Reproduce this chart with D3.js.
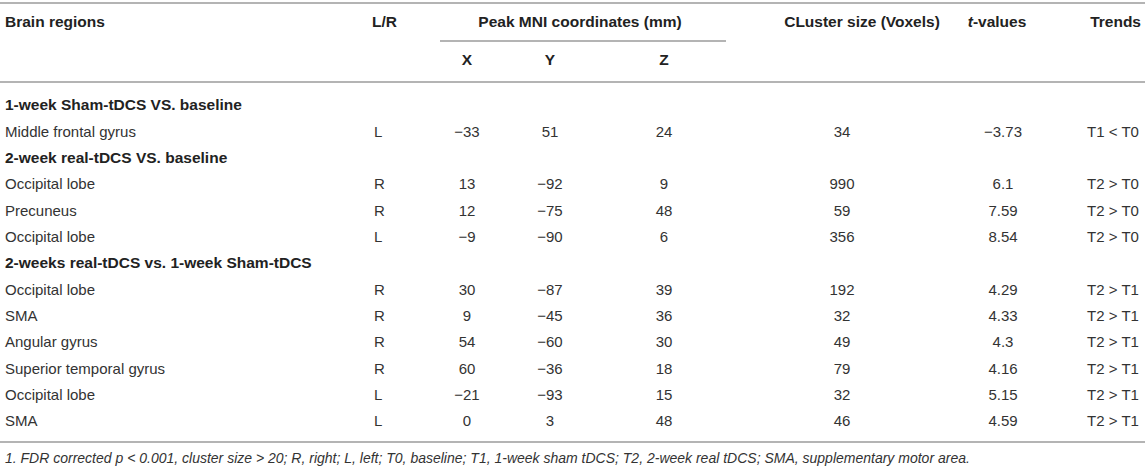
<!DOCTYPE html>
<html>
<head>
<meta charset="utf-8">
<script src="https://cdnjs.cloudflare.com/ajax/libs/d3/7.8.5/d3.min.js"></script>
<style>
body { margin:0; background:#fff; }
text { font-family: "Liberation Sans", Arial, sans-serif; font-size:15px; fill:#333; }
.hd { font-weight:bold; font-size:15.5px; fill:#222; }
.rule { stroke:#b4b4b4; stroke-width:2; }
</style>
</head>
<body>
<svg id="tbl" width="1145" height="471"></svg>
<script>
// section titles and how many rows each one owns
var groupTitles = ["1-week Sham-tDCS VS. baseline", "2-week real-tDCS VS. baseline", "2-weeks real-tDCS vs. 1-week Sham-tDCS"];
var groupSizes = [1, 3, 6];

var regions = ["Middle frontal gyrus", "Occipital lobe", "Precuneus", "Occipital lobe",
	"Occipital lobe", "SMA", "Angular gyrus", "Superior temporal gyrus", "Occipital lobe", "SMA"];
var sides = ["L", "R", "R", "L", "R", "R", "R", "R", "L", "L"];
var xCoords = [-33, 13, 12, -9, 30, 9, 54, 60, -21, 0];
var yCoords = [51, -92, -75, -90, -87, -45, -60, -36, -93, 3];
var zCoords = [24, 9, 48, 6, 39, 36, 30, 18, 15, 48];
var clusterSizes = [34, 990, 59, 356, 192, 32, 49, 79, 32, 46];
var tValues = ["-3.73", "6.1", "7.59", "8.54", "4.29", "4.33", "4.3", "4.16", "5.15", "4.59"];
var trends = ["T1 < T0", "T2 > T0", "T2 > T0", "T2 > T0", "T2 > T1", "T2 > T1", "T2 > T1", "T2 > T1", "T2 > T1", "T2 > T1"];

var footnote = "1. FDR corrected p < 0.001, cluster size > 20; R, right; L, left; T0, baseline; T1, 1-week sham tDCS; T2, 2-week real tDCS; SMA, supplementary motor area.";

function fmt(v)
{
	// typeset minus sign like the journal does
	return String(v).replace("-", "\u2212");
}

var svg = d3.select("#tbl");
var W = 1145;

// column anchors
var col = {
	region: 5, side: 374, x: 467, y: 550, z: 664,
	cluster: 842, t: 1003, trend: 1113
};

// flatten groups into display lines
var lines = [];
var k = 0;
for(var g = 0; g < groupTitles.length; g++)
{
	lines.push({type:"group", text: groupTitles[g]});
	for(var j = 0; j < groupSizes[g]; j++)
	{
		lines.push({type:"row", i:k});
		k++;
	}
}

var yRow = d3.scaleLinear()
	.domain([0, lines.length - 1])
	.range([105, 421]);
var yLast = yRow(lines.length - 1);

// rules
svg.append("line").attr("class","rule").attr("x1",0).attr("x2",W).attr("y1",3).attr("y2",3);
svg.append("line").attr("class","rule").attr("x1",440).attr("x2",726).attr("y1",41).attr("y2",41);
svg.append("line").attr("class","rule").attr("x1",0).attr("x2",W).attr("y1",82).attr("y2",82);
svg.append("line").attr("class","rule").attr("x1",0).attr("x2",W).attr("y1",yLast+21).attr("y2",yLast+21);

// header
var head = svg.append("g").attr("class","header");
function hText(x, y, txt, anchor)
{
	return head.append("text").attr("class","hd")
		.attr("x", x).attr("y", y).attr("dy","0.35em")
		.attr("text-anchor", anchor || "middle")
		.text(txt);
}
hText(col.region, 22, "Brain regions", "start");
hText(col.side - 2, 22, "L/R", "start");
hText(580, 22, "Peak MNI coordinates (mm)");
hText(862, 22, "CLuster size (Voxels)");
var th = hText(997, 22, "");
th.append("tspan").style("font-style","italic").text("t");
th.append("tspan").text("-values");
hText(1141, 22, "Trends", "end");
hText(col.x, 60, "X");
hText(col.y, 60, "Y");
hText(col.z, 60, "Z");

// body
var body = svg.append("g").attr("class","body");
var lineG = body.selectAll("g")
	.data(lines).enter()
	.append("g")
	.attr("transform", function(d, i){ return "translate(0," + yRow(i) + ")"; });

lineG.filter(function(d){ return d.type == "group"; })
	.append("text")
	.attr("class","hd")
	.attr("x", col.region)
	.attr("dy","0.35em")
	.text(function(d){ return d.text; });

var rowG = lineG.filter(function(d){ return d.type == "row"; });
var cells = [
	{key:"region", anchor:"start", val:function(i){ return regions[i]; }},
	{key:"side", anchor:"start", val:function(i){ return sides[i]; }},
	{key:"x", anchor:"middle", val:function(i){ return fmt(xCoords[i]); }},
	{key:"y", anchor:"middle", val:function(i){ return fmt(yCoords[i]); }},
	{key:"z", anchor:"middle", val:function(i){ return fmt(zCoords[i]); }},
	{key:"cluster", anchor:"middle", val:function(i){ return clusterSizes[i]; }},
	{key:"t", anchor:"middle", val:function(i){ return fmt(tValues[i]); }},
	{key:"trend", anchor:"middle", val:function(i){ return trends[i]; }}
];
cells.forEach(function(c)
{
	rowG.append("text")
		.attr("x", col[c.key])
		.attr("dy","0.35em")
		.attr("text-anchor", c.anchor)
		.text(function(d){ return c.val(d.i); });
});

// footnote
svg.append("text")
	.attr("x", 5)
	.attr("y", yLast+37)
	.attr("dy","0.35em")
	.style("font-style","italic")
	.style("font-size","14px")
	.text(footnote);
</script>
</body>
</html>
